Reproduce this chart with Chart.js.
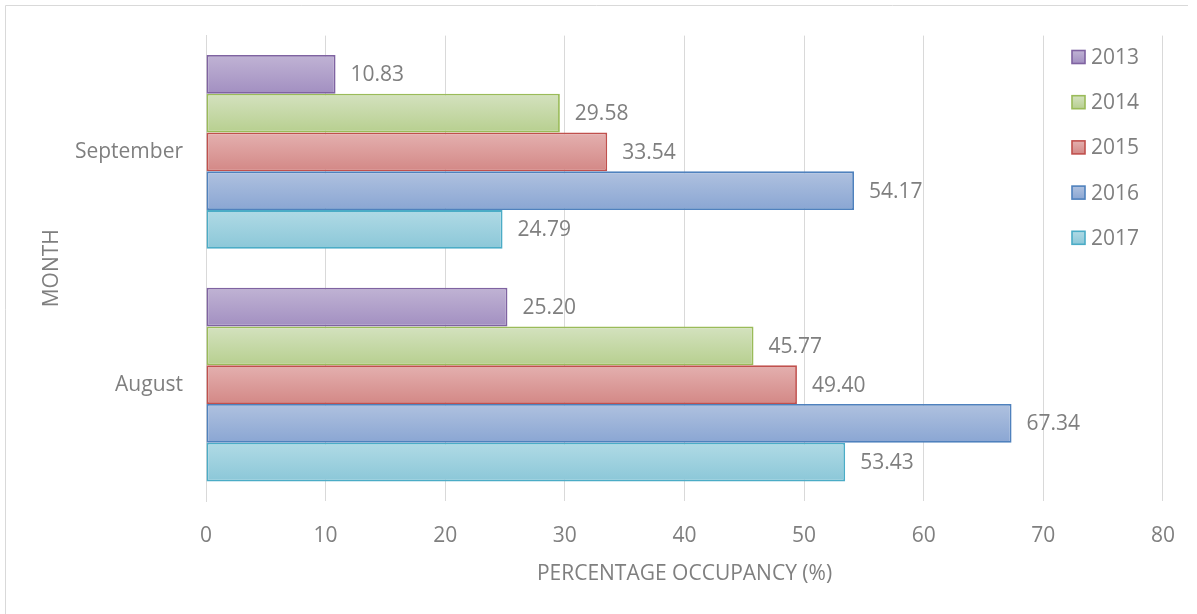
<!DOCTYPE html>
<html>
<head>
<meta charset="utf-8">
<title>Percentage occupancy by month</title>
<script src="https://cdn.jsdelivr.net/npm/chart.js@4/dist/chart.umd.min.js"></script>
<style>
  html, body { margin: 0; padding: 0; background: #ffffff; }
  #wrap { position: relative; width: 1197px; height: 614px; }
</style>
</head>
<body>
<div id="wrap"><canvas id="chart" width="1197" height="614"></canvas></div>
<script>
// Months shown on the category axis (top to bottom)
const months = ['September', 'August'];

// Occupancy (%) per year, one value per month
const years = ['2013', '2014', '2015', '2016', '2017'];
const occ2013 = [10.83, 25.20];
const occ2014 = [29.58, 45.77];
const occ2015 = [33.54, 49.40];
const occ2016 = [54.17, 67.34];
const occ2017 = [24.79, 53.43];

// Value axis tick labels
const xTicks = [0, 10, 20, 30, 40, 50, 60, 70, 80];

const FONT = '"Open Sans", "Liberation Sans", sans-serif';
const FSIZE = 21;
const TEXT = '#7f7f7f';

// Per-series styling: gradient top, gradient bottom, outline
const palette = [
  { top: '#c0b3d4', bottom: '#a28fc1', line: '#7f63a1' },
  { top: '#d4e2bf', bottom: '#b7cf8f', line: '#9abb59' },
  { top: '#e4b0af', bottom: '#d38886', line: '#c0504d' },
  { top: '#afc1df', bottom: '#8aa6d3', line: '#4f81bd' },
  { top: '#b0dae5', bottom: '#8bc7d8', line: '#4bacc6' }
];

const CAT_PCT = 0.833;
const BAR_PCT = 1.0;

// Vertical gradient spanning exactly one bar, located from the category scale
function barGradient(ctx) {
  const chart = ctx.chart;
  const yScale = chart.scales && chart.scales.y;
  const pal = palette[ctx.datasetIndex];
  if (!yScale || ctx.dataIndex === undefined) return pal.bottom;
  const n = chart.data.datasets.length;
  const catSize = (yScale.bottom - yScale.top) / chart.data.labels.length;
  const group = catSize * CAT_PCT;
  const slot = group / n;
  const start = yScale.getPixelForValue(ctx.dataIndex) - group / 2 + slot * ctx.datasetIndex;
  const top = start + slot * (1 - BAR_PCT) / 2;
  const bottom = top + slot * BAR_PCT;
  if (!isFinite(top) || !isFinite(bottom) || bottom <= top) return pal.bottom;
  const g = chart.ctx.createLinearGradient(0, top, 0, bottom);
  g.addColorStop(0, pal.top);
  g.addColorStop(1, pal.bottom);
  return g;
}

const seriesValues = [occ2013, occ2014, occ2015, occ2016, occ2017];
const datasets = years.map((y, i) => ({
  label: y,
  data: seriesValues[i],
  backgroundColor: barGradient,
  borderColor: palette[i].line,
  borderWidth: 1.8,
  borderSkipped: false,
  categoryPercentage: CAT_PCT,
  barPercentage: BAR_PCT
}));

// Value labels just past the end of each bar
const valueLabels = {
  id: 'valueLabels',
  afterDatasetsDraw(chart) {
    const ctx = chart.ctx;
    ctx.save();
    ctx.font = FSIZE + 'px ' + FONT;
    ctx.fillStyle = TEXT;
    ctx.textAlign = 'left';
    ctx.textBaseline = 'middle';
    chart.data.datasets.forEach((ds, di) => {
      const meta = chart.getDatasetMeta(di);
      meta.data.forEach((bar, i) => {
        ctx.fillText(Number(ds.data[i]).toFixed(2), bar.x + 15, bar.y + 1);
      });
    });
    ctx.restore();
  }
};

// Vertical legend placed over the right end of the plot
const sideLegend = {
  id: 'sideLegend',
  afterDraw(chart) {
    const ctx = chart.ctx;
    ctx.save();
    ctx.font = FSIZE + 'px ' + FONT;
    ctx.textAlign = 'left';
    ctx.textBaseline = 'middle';
    const x = 1072, y0 = 57, step = 45.2, box = 13;
    chart.data.datasets.forEach((ds, i) => {
      const cy = y0 + step * i;
      const pal = palette[i];
      const g = ctx.createLinearGradient(0, cy - box / 2, 0, cy + box / 2);
      g.addColorStop(0, pal.top);
      g.addColorStop(1, pal.bottom);
      ctx.fillStyle = g;
      ctx.fillRect(x, cy - box / 2, box, box);
      ctx.strokeStyle = pal.line;
      ctx.lineWidth = 1.6;
      ctx.strokeRect(x, cy - box / 2, box, box);
      ctx.fillStyle = TEXT;
      ctx.fillText(ds.label, x + 19, cy + 1);
    });
    ctx.restore();
  }
};

// Thin frame along the top and left edges
const frame = {
  id: 'frame',
  beforeDraw(chart) {
    const ctx = chart.ctx;
    ctx.save();
    ctx.strokeStyle = '#d9d9d9';
    ctx.lineWidth = 1;
    ctx.beginPath();
    ctx.moveTo(5.5, 614);
    ctx.lineTo(5.5, 5.5);
    ctx.lineTo(1188, 5.5);
    ctx.stroke();
    ctx.restore();
  }
};

new Chart(document.getElementById('chart'), {
  type: 'bar',
  data: { labels: months, datasets },
  options: {
    indexAxis: 'y',
    responsive: false,
    animation: false,
    layout: { padding: { top: 33, right: 33, left: 0, bottom: 0 } },
    plugins: {
      legend: { display: false },
      tooltip: { enabled: false }
    },
    scales: {
      x: {
        min: 0,
        max: 80,
        afterBuildTicks(scale) {
          scale.ticks = xTicks.map(v => ({ value: v }));
        },
        afterFit(scale) { scale.height = 113; },
        grid: { color: '#d9d9d9', lineWidth: 1, drawTicks: false },
        border: { display: false },
        ticks: { color: TEXT, font: { family: FONT, size: FSIZE }, padding: 22 },
        title: {
          display: true,
          text: 'PERCENTAGE OCCUPANCY (%)',
          color: TEXT,
          font: { family: FONT, size: FSIZE, lineHeight: 1.2 },
          padding: { top: 0, bottom: 27 }
        }
      },
      y: {
        afterFit(scale) { scale.width = 206; },
        grid: { display: false, drawTicks: false },
        border: { display: true, color: '#d9d9d9', width: 1 },
        ticks: { color: TEXT, font: { family: FONT, size: FSIZE }, padding: 23 },
        title: {
          display: true,
          text: 'MONTH',
          color: TEXT,
          font: { family: FONT, size: FSIZE, lineHeight: 1.2 },
          padding: { top: 39, bottom: 0 }
        }
      }
    }
  },
  plugins: [frame, valueLabels, sideLegend]
});
</script>
</body>
</html>
